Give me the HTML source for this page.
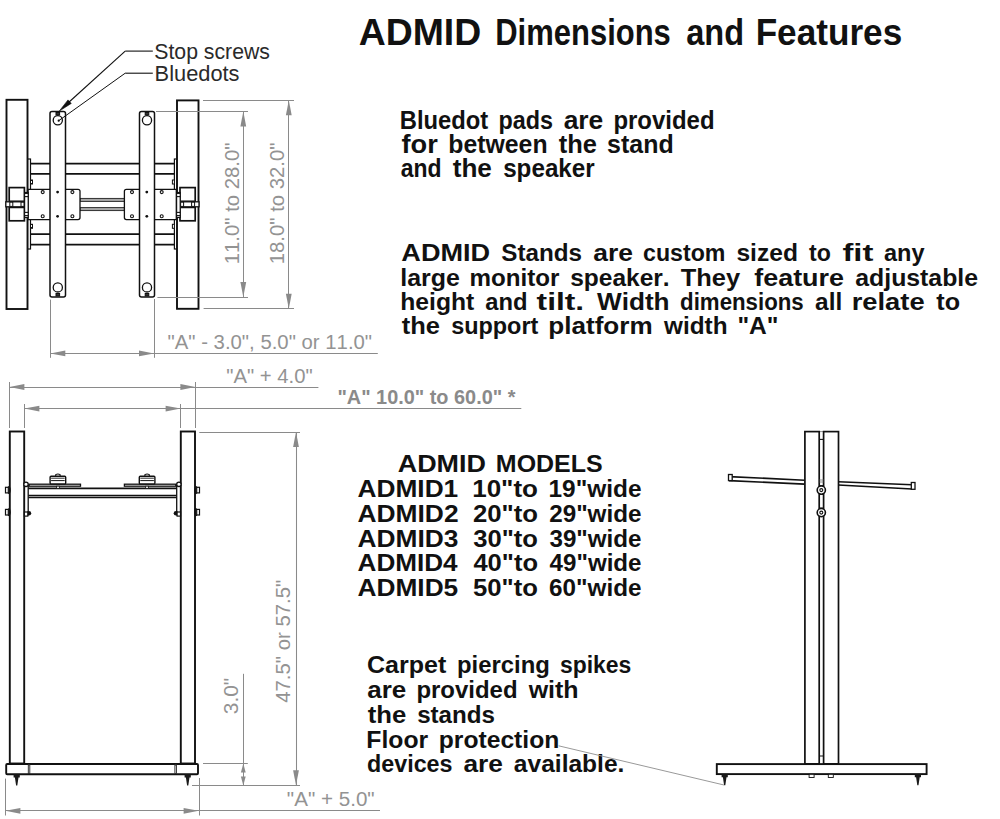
<!DOCTYPE html>
<html><head><meta charset="utf-8"><style>
html,body{margin:0;padding:0;background:#fff;width:1000px;height:819px;overflow:hidden}
svg{display:block}
text{font-family:"Liberation Sans",sans-serif;font-kerning:none;white-space:pre}
</style></head><body>
<svg width="1000" height="819" viewBox="0 0 1000 819">
<rect width="1000" height="819" fill="#fff"/>
<text x="358.67" y="45" font-size="37.5" font-weight="bold" fill="#111" textLength="122.5" lengthAdjust="spacingAndGlyphs">ADMID</text>
<text x="495.23" y="45" font-size="37.5" font-weight="bold" fill="#111" textLength="175.64" lengthAdjust="spacingAndGlyphs">Dimensions</text>
<text x="686.25" y="45" font-size="37.5" font-weight="bold" fill="#111" textLength="57.8" lengthAdjust="spacingAndGlyphs">and</text>
<text x="755.65" y="45" font-size="37.5" font-weight="bold" fill="#111" textLength="146.59" lengthAdjust="spacingAndGlyphs">Features</text>
<text x="399.81" y="129" font-size="26.5" font-weight="bold" fill="#111" textLength="88.48" lengthAdjust="spacingAndGlyphs">Bluedot</text>
<text x="498.46" y="129" font-size="26.5" font-weight="bold" fill="#111" textLength="54.5" lengthAdjust="spacingAndGlyphs">pads</text>
<text x="563.63" y="129" font-size="26.5" font-weight="bold" fill="#111" textLength="39.68" lengthAdjust="spacingAndGlyphs">are</text>
<text x="613.42" y="129" font-size="26.5" font-weight="bold" fill="#111" textLength="101.16" lengthAdjust="spacingAndGlyphs">provided</text>
<text x="401.53" y="153" font-size="26.5" font-weight="bold" fill="#111" textLength="36.28" lengthAdjust="spacingAndGlyphs">for</text>
<text x="448.37" y="153" font-size="26.5" font-weight="bold" fill="#111" textLength="99.17" lengthAdjust="spacingAndGlyphs">between</text>
<text x="558.69" y="153" font-size="26.5" font-weight="bold" fill="#111" textLength="38.18" lengthAdjust="spacingAndGlyphs">the</text>
<text x="607.12" y="153" font-size="26.5" font-weight="bold" fill="#111" textLength="66.52" lengthAdjust="spacingAndGlyphs">stand</text>
<text x="400.73" y="176.8" font-size="26.5" font-weight="bold" fill="#111" textLength="40.78" lengthAdjust="spacingAndGlyphs">and</text>
<text x="452.68" y="176.8" font-size="26.5" font-weight="bold" fill="#111" textLength="39.21" lengthAdjust="spacingAndGlyphs">the</text>
<text x="503.15" y="176.8" font-size="26.5" font-weight="bold" fill="#111" textLength="91.62" lengthAdjust="spacingAndGlyphs">speaker</text>
<text x="401.33" y="260.6" font-size="24.6" font-weight="bold" fill="#111" textLength="88.81" lengthAdjust="spacingAndGlyphs">ADMID</text>
<text x="501.3" y="260.6" font-size="24.6" font-weight="bold" fill="#111" textLength="80.69" lengthAdjust="spacingAndGlyphs">Stands</text>
<text x="593.23" y="260.6" font-size="24.6" font-weight="bold" fill="#111" textLength="39.68" lengthAdjust="spacingAndGlyphs">are</text>
<text x="643.1" y="260.6" font-size="24.6" font-weight="bold" fill="#111" textLength="82.34" lengthAdjust="spacingAndGlyphs">custom</text>
<text x="736.44" y="260.6" font-size="24.6" font-weight="bold" fill="#111" textLength="61.48" lengthAdjust="spacingAndGlyphs">sized</text>
<text x="809.02" y="260.6" font-size="24.6" font-weight="bold" fill="#111" textLength="21.89" lengthAdjust="spacingAndGlyphs">to</text>
<text x="842.44" y="260.6" font-size="24.6" font-weight="bold" fill="#111" textLength="30.96" lengthAdjust="spacingAndGlyphs">fit</text>
<text x="884.01" y="260.6" font-size="24.6" font-weight="bold" fill="#111" textLength="40.52" lengthAdjust="spacingAndGlyphs">any</text>
<text x="400.26" y="285.6" font-size="24.6" font-weight="bold" fill="#111" textLength="59.59" lengthAdjust="spacingAndGlyphs">large</text>
<text x="469.41" y="285.6" font-size="24.6" font-weight="bold" fill="#111" textLength="89.96" lengthAdjust="spacingAndGlyphs">monitor</text>
<text x="570.14" y="285.6" font-size="24.6" font-weight="bold" fill="#111" textLength="99.55" lengthAdjust="spacingAndGlyphs">speaker.</text>
<text x="680.71" y="285.6" font-size="24.6" font-weight="bold" fill="#111" textLength="59.42" lengthAdjust="spacingAndGlyphs">They</text>
<text x="754.24" y="285.6" font-size="24.6" font-weight="bold" fill="#111" textLength="89.78" lengthAdjust="spacingAndGlyphs">feature</text>
<text x="855.27" y="285.6" font-size="24.6" font-weight="bold" fill="#111" textLength="122.78" lengthAdjust="spacingAndGlyphs">adjustable</text>
<text x="400.28" y="309.8" font-size="24.6" font-weight="bold" fill="#111" textLength="74.02" lengthAdjust="spacingAndGlyphs">height</text>
<text x="485.3" y="309.8" font-size="24.6" font-weight="bold" fill="#111" textLength="42.26" lengthAdjust="spacingAndGlyphs">and</text>
<text x="536.61" y="309.8" font-size="24.6" font-weight="bold" fill="#111" textLength="47.57" lengthAdjust="spacingAndGlyphs">tilt.</text>
<text x="596.97" y="309.8" font-size="24.6" font-weight="bold" fill="#111" textLength="72.65" lengthAdjust="spacingAndGlyphs">Width</text>
<text x="680.09" y="309.8" font-size="24.6" font-weight="bold" fill="#111" textLength="123.63" lengthAdjust="spacingAndGlyphs">dimensions</text>
<text x="815.08" y="309.8" font-size="24.6" font-weight="bold" fill="#111" textLength="27.14" lengthAdjust="spacingAndGlyphs">all</text>
<text x="851.7" y="309.8" font-size="24.6" font-weight="bold" fill="#111" textLength="72.94" lengthAdjust="spacingAndGlyphs">relate</text>
<text x="936.39" y="309.8" font-size="24.6" font-weight="bold" fill="#111" textLength="23.79" lengthAdjust="spacingAndGlyphs">to</text>
<text x="401.69" y="333.6" font-size="24.6" font-weight="bold" fill="#111" textLength="38.18" lengthAdjust="spacingAndGlyphs">the</text>
<text x="451.18" y="333.6" font-size="24.6" font-weight="bold" fill="#111" textLength="87.11" lengthAdjust="spacingAndGlyphs">support</text>
<text x="548.28" y="333.6" font-size="24.6" font-weight="bold" fill="#111" textLength="104.34" lengthAdjust="spacingAndGlyphs">platform</text>
<text x="664.07" y="333.6" font-size="24.6" font-weight="bold" fill="#111" textLength="63.44" lengthAdjust="spacingAndGlyphs">width</text>
<text x="737.38" y="333.6" font-size="24.6" font-weight="bold" fill="#111" textLength="41.04" lengthAdjust="spacingAndGlyphs">&quot;A&quot;</text>
<text x="397.73" y="472.3" font-size="23.6" font-weight="bold" fill="#111" textLength="88.2" lengthAdjust="spacingAndGlyphs">ADMID</text>
<text x="495.83" y="472.3" font-size="23.6" font-weight="bold" fill="#111" textLength="106.85" lengthAdjust="spacingAndGlyphs">MODELS</text>
<text x="357.55" y="497.4" font-size="23.6" font-weight="bold" fill="#111" textLength="100.69" lengthAdjust="spacingAndGlyphs">ADMID1</text>
<text x="472.16" y="497.4" font-size="23.6" font-weight="bold" fill="#111" textLength="65.86" lengthAdjust="spacingAndGlyphs">10&quot;to</text>
<text x="548.46" y="497.4" font-size="23.6" font-weight="bold" fill="#111" textLength="93.07" lengthAdjust="spacingAndGlyphs">19&quot;wide</text>
<text x="357.54" y="521.8" font-size="23.6" font-weight="bold" fill="#111" textLength="101.01" lengthAdjust="spacingAndGlyphs">ADMID2</text>
<text x="472.91" y="521.8" font-size="23.6" font-weight="bold" fill="#111" textLength="65.1" lengthAdjust="spacingAndGlyphs">20&quot;to</text>
<text x="549.16" y="521.8" font-size="23.6" font-weight="bold" fill="#111" textLength="92.37" lengthAdjust="spacingAndGlyphs">29&quot;wide</text>
<text x="357.54" y="546.6" font-size="23.6" font-weight="bold" fill="#111" textLength="100.91" lengthAdjust="spacingAndGlyphs">ADMID3</text>
<text x="473.21" y="546.6" font-size="23.6" font-weight="bold" fill="#111" textLength="64.79" lengthAdjust="spacingAndGlyphs">30&quot;to</text>
<text x="549.45" y="546.6" font-size="23.6" font-weight="bold" fill="#111" textLength="92.08" lengthAdjust="spacingAndGlyphs">39&quot;wide</text>
<text x="357.55" y="571.2" font-size="23.6" font-weight="bold" fill="#111" textLength="100.09" lengthAdjust="spacingAndGlyphs">ADMID4</text>
<text x="473.41" y="571.2" font-size="23.6" font-weight="bold" fill="#111" textLength="64.58" lengthAdjust="spacingAndGlyphs">40&quot;to</text>
<text x="549.63" y="571.2" font-size="23.6" font-weight="bold" fill="#111" textLength="91.89" lengthAdjust="spacingAndGlyphs">49&quot;wide</text>
<text x="357.55" y="596.2" font-size="23.6" font-weight="bold" fill="#111" textLength="100.69" lengthAdjust="spacingAndGlyphs">ADMID5</text>
<text x="473.01" y="596.2" font-size="23.6" font-weight="bold" fill="#111" textLength="64.99" lengthAdjust="spacingAndGlyphs">50&quot;to</text>
<text x="549.11" y="596.2" font-size="23.6" font-weight="bold" fill="#111" textLength="92.42" lengthAdjust="spacingAndGlyphs">60&quot;wide</text>
<text x="366.97" y="673.3" font-size="24.4" font-weight="bold" fill="#111" textLength="79.33" lengthAdjust="spacingAndGlyphs">Carpet</text>
<text x="457.03" y="673.3" font-size="24.4" font-weight="bold" fill="#111" textLength="92.77" lengthAdjust="spacingAndGlyphs">piercing</text>
<text x="559.99" y="673.3" font-size="24.4" font-weight="bold" fill="#111" textLength="71.35" lengthAdjust="spacingAndGlyphs">spikes</text>
<text x="367.24" y="698.3" font-size="24.4" font-weight="bold" fill="#111" textLength="39.05" lengthAdjust="spacingAndGlyphs">are</text>
<text x="416.42" y="698.3" font-size="24.4" font-weight="bold" fill="#111" textLength="101.16" lengthAdjust="spacingAndGlyphs">provided</text>
<text x="528.67" y="698.3" font-size="24.4" font-weight="bold" fill="#111" textLength="49.98" lengthAdjust="spacingAndGlyphs">with</text>
<text x="367.69" y="723.1" font-size="24.4" font-weight="bold" fill="#111" textLength="38.59" lengthAdjust="spacingAndGlyphs">the</text>
<text x="417.15" y="723.1" font-size="24.4" font-weight="bold" fill="#111" textLength="77.84" lengthAdjust="spacingAndGlyphs">stands</text>
<text x="366.35" y="747.6" font-size="24.4" font-weight="bold" fill="#111" textLength="61.83" lengthAdjust="spacingAndGlyphs">Floor</text>
<text x="438.77" y="747.6" font-size="24.4" font-weight="bold" fill="#111" textLength="120.55" lengthAdjust="spacingAndGlyphs">protection</text>
<text x="367.04" y="772.4" font-size="24.4" font-weight="bold" fill="#111" textLength="85.51" lengthAdjust="spacingAndGlyphs">devices</text>
<text x="463.43" y="772.4" font-size="24.4" font-weight="bold" fill="#111" textLength="39.47" lengthAdjust="spacingAndGlyphs">are</text>
<text x="513.88" y="772.4" font-size="24.4" font-weight="bold" fill="#111" textLength="110.51" lengthAdjust="spacingAndGlyphs">available.</text>
<text x="154.24" y="58.8" font-size="21.5" font-weight="normal" fill="#2a2a2a" textLength="115.73" lengthAdjust="spacingAndGlyphs">Stop screws</text>
<text x="154.61" y="80.9" font-size="21.5" font-weight="normal" fill="#2a2a2a" textLength="84.88" lengthAdjust="spacingAndGlyphs">Bluedots</text>
<text x="167.54" y="349" font-size="20" font-weight="normal" fill="#939393" textLength="204.53" lengthAdjust="spacingAndGlyphs">&quot;A&quot; - 3.0&quot;, 5.0&quot; or 11.0&quot;</text>
<text x="226.24" y="382.7" font-size="20" font-weight="normal" fill="#939393" textLength="86.42" lengthAdjust="spacingAndGlyphs">&quot;A&quot; + 4.0&quot;</text>
<text x="337.39" y="404" font-size="21" font-weight="bold" fill="#8a8a8a" textLength="178.03" lengthAdjust="spacingAndGlyphs">&quot;A&quot; 10.0&quot; to 60.0&quot; *</text>
<text x="286.82" y="806.2" font-size="20" font-weight="normal" fill="#939393" textLength="87.85" lengthAdjust="spacingAndGlyphs">&quot;A&quot; + 5.0&quot;</text>
<text x="-264.35" y="238.9" font-size="20.5" font-weight="normal" fill="#939393" textLength="121.91" lengthAdjust="spacingAndGlyphs" transform="rotate(-90)">11.0&quot; to 28.0&quot;</text>
<text x="-264.35" y="284.1" font-size="20.5" font-weight="normal" fill="#939393" textLength="121.91" lengthAdjust="spacingAndGlyphs" transform="rotate(-90)">18.0&quot; to 32.0&quot;</text>
<text x="-714.2" y="237.7" font-size="20.5" font-weight="normal" fill="#939393" textLength="36.48" lengthAdjust="spacingAndGlyphs" transform="rotate(-90)">3.0&quot;</text>
<text x="-702.77" y="289.9" font-size="20.5" font-weight="normal" fill="#939393" textLength="123.03" lengthAdjust="spacingAndGlyphs" transform="rotate(-90)">47.5&quot; or 57.5&quot;</text>
<line x1="30.5" y1="163.7" x2="174.4" y2="163.7" stroke="#111" stroke-width="1.8"/>
<line x1="30.5" y1="173.8" x2="174.4" y2="173.8" stroke="#111" stroke-width="1.8"/>
<line x1="30.5" y1="234.2" x2="174.4" y2="234.2" stroke="#111" stroke-width="1.8"/>
<line x1="30.5" y1="244.6" x2="174.4" y2="244.6" stroke="#111" stroke-width="1.8"/>
<rect x="27.5" y="159" width="3.0" height="90" rx="0" stroke="#111" stroke-width="1.2" fill="#fff"/>
<rect x="174.4" y="159" width="3.0" height="90" rx="0" stroke="#111" stroke-width="1.2" fill="#fff"/>
<rect x="30.5" y="180" width="2.0" height="4" rx="0" stroke="#111" stroke-width="1" fill="#fff"/>
<rect x="172.4" y="180" width="2.0" height="4" rx="0" stroke="#111" stroke-width="1" fill="#fff"/>
<rect x="30.5" y="224.3" width="2.0" height="4.0" rx="0" stroke="#111" stroke-width="1" fill="#fff"/>
<rect x="172.4" y="224.3" width="2.0" height="4.0" rx="0" stroke="#111" stroke-width="1" fill="#fff"/>
<rect x="80" y="198.4" width="44.4" height="3.0" rx="0" stroke="#222" stroke-width="0.9" fill="#a8a8a8"/>
<rect x="80" y="207.6" width="44.4" height="3.0" rx="0" stroke="#222" stroke-width="0.9" fill="#a8a8a8"/>
<path d="M28,189.3 H78 Q80,189.3 80,191.3 V217.6 Q80,219.6 78,219.6 H28 Z" stroke="#111" stroke-width="1.3" fill="#fff"/>
<path d="M176.3,189.3 H126.4 Q124.4,189.3 124.4,191.3 V217.6 Q124.4,219.6 126.4,219.6 H176.3 Z" stroke="#111" stroke-width="1.3" fill="#fff"/>
<circle cx="42.7" cy="192.1" r="1.5" stroke="#111" stroke-width="1.1" fill="#fff"/>
<circle cx="72.4" cy="192.1" r="1.5" stroke="#111" stroke-width="1.1" fill="#fff"/>
<circle cx="42.7" cy="216.3" r="1.5" stroke="#111" stroke-width="1.1" fill="#fff"/>
<circle cx="72.4" cy="216.3" r="1.5" stroke="#111" stroke-width="1.1" fill="#fff"/>
<circle cx="132" cy="192.1" r="1.5" stroke="#111" stroke-width="1.1" fill="#fff"/>
<circle cx="161.7" cy="192.1" r="1.5" stroke="#111" stroke-width="1.1" fill="#fff"/>
<circle cx="132" cy="216.3" r="1.5" stroke="#111" stroke-width="1.1" fill="#fff"/>
<circle cx="161.7" cy="216.3" r="1.5" stroke="#111" stroke-width="1.1" fill="#fff"/>
<rect x="50" y="111.5" width="15.5" height="185.5" rx="2" stroke="#111" stroke-width="1.5" fill="#fff"/>
<rect x="139.5" y="111.5" width="15.0" height="185.5" rx="2" stroke="#111" stroke-width="1.5" fill="#fff"/>
<circle cx="57.6" cy="192.1" r="1.4" stroke="#111" stroke-width="0" fill="#111"/>
<circle cx="57.6" cy="216.3" r="1.4" stroke="#111" stroke-width="0" fill="#111"/>
<circle cx="146.8" cy="192.1" r="1.4" stroke="#111" stroke-width="0" fill="#111"/>
<circle cx="146.8" cy="216.3" r="1.4" stroke="#111" stroke-width="0" fill="#111"/>
<circle cx="57.8" cy="120.3" r="4.6" stroke="#111" stroke-width="1.3" fill="#fff"/>
<circle cx="57.8" cy="287.4" r="4.6" stroke="#111" stroke-width="1.3" fill="#fff"/>
<rect x="56.0" y="112.5" width="3.6" height="2.5" rx="0" stroke="#111" stroke-width="1" fill="#333"/>
<rect x="56.0" y="293.5" width="3.6" height="2.5" rx="0" stroke="#111" stroke-width="1" fill="#333"/>
<circle cx="147" cy="120.3" r="4.6" stroke="#111" stroke-width="1.3" fill="#fff"/>
<circle cx="147" cy="287.4" r="4.6" stroke="#111" stroke-width="1.3" fill="#fff"/>
<rect x="145.2" y="112.5" width="3.6" height="2.5" rx="0" stroke="#111" stroke-width="1" fill="#333"/>
<rect x="145.2" y="293.5" width="3.6" height="2.5" rx="0" stroke="#111" stroke-width="1" fill="#333"/>
<rect x="6.5" y="99.8" width="21.0" height="209.2" rx="0" stroke="#111" stroke-width="1.9" fill="#fff"/>
<rect x="177" y="100.4" width="21.5" height="208.4" rx="0" stroke="#111" stroke-width="1.9" fill="#fff"/>
<rect x="9.2" y="187.6" width="15.2" height="13.7" rx="0" stroke="#111" stroke-width="1.7" fill="#fff"/>
<rect x="9.2" y="207.4" width="15.2" height="13.4" rx="0" stroke="#111" stroke-width="1.7" fill="#fff"/>
<rect x="5.8" y="201.8" width="18.6" height="5.0" rx="0" stroke="#111" stroke-width="1.3" fill="#fff"/>
<rect x="9.8" y="202.2" width="3.0" height="4.2" rx="0" stroke="#111" stroke-width="1.0" fill="#fff"/>
<rect x="21" y="202.2" width="3" height="4.2" rx="0" stroke="#111" stroke-width="1.0" fill="#fff"/>
<rect x="180" y="187.6" width="15.2" height="13.7" rx="0" stroke="#111" stroke-width="1.7" fill="#fff"/>
<rect x="180" y="207.4" width="15.2" height="13.4" rx="0" stroke="#111" stroke-width="1.7" fill="#fff"/>
<rect x="180" y="201.8" width="19" height="5.0" rx="0" stroke="#111" stroke-width="1.3" fill="#fff"/>
<rect x="180.6" y="202.2" width="3.0" height="4.2" rx="0" stroke="#111" stroke-width="1.0" fill="#fff"/>
<rect x="191.6" y="202.2" width="3.0" height="4.2" rx="0" stroke="#111" stroke-width="1.0" fill="#fff"/>
<rect x="24.6" y="192.5" width="3.6" height="25.0" rx="0" stroke="#111" stroke-width="1.2" fill="#fff"/>
<rect x="24.6" y="193.4" width="3.6" height="3.2" rx="0" stroke="#111" stroke-width="1.1" fill="#fff"/>
<rect x="24.6" y="212.4" width="3.6" height="3.2" rx="0" stroke="#111" stroke-width="1.1" fill="#fff"/>
<rect x="176.6" y="192.5" width="3.6" height="25.0" rx="0" stroke="#111" stroke-width="1.2" fill="#fff"/>
<rect x="176.6" y="193.4" width="3.6" height="3.2" rx="0" stroke="#111" stroke-width="1.1" fill="#fff"/>
<rect x="176.6" y="212.4" width="3.6" height="3.2" rx="0" stroke="#111" stroke-width="1.1" fill="#fff"/>
<line x1="125.2" y1="51.1" x2="152.8" y2="51.1" stroke="#111" stroke-width="1.1"/>
<line x1="125.2" y1="51.1" x2="68" y2="103" stroke="#111" stroke-width="1.1"/>
<polygon points="59.3,111.1 71.3,103.4 68.0,99.9" fill="#111" stroke="#111" stroke-width="0.6" stroke-linejoin="round"/>
<line x1="125.2" y1="73.2" x2="152.8" y2="73.2" stroke="#111" stroke-width="1.1"/>
<line x1="125.2" y1="73.2" x2="58.7" y2="120.7" stroke="#111" stroke-width="1.0"/>
<circle cx="58.7" cy="120.7" r="1.1" stroke="#111" stroke-width="0" fill="#111"/>
<line x1="203" y1="100.5" x2="294" y2="100.5" stroke="#8a8a8a" stroke-width="1.05"/>
<line x1="156" y1="111.5" x2="248" y2="111.5" stroke="#8a8a8a" stroke-width="1.05"/>
<line x1="157.4" y1="297.5" x2="248" y2="297.5" stroke="#8a8a8a" stroke-width="1.05"/>
<line x1="203.6" y1="308.5" x2="294" y2="308.5" stroke="#8a8a8a" stroke-width="1.05"/>
<line x1="243.5" y1="111.4" x2="243.5" y2="297" stroke="#8a8a8a" stroke-width="1.05"/>
<polygon points="243.3,111.4 240.4,126.4 246.20000000000002,126.4" fill="#8a8a8a"/>
<polygon points="243.3,297 240.4,282 246.20000000000002,282" fill="#8a8a8a"/>
<line x1="288.5" y1="100.3" x2="288.5" y2="308.8" stroke="#8a8a8a" stroke-width="1.05"/>
<polygon points="288.8,100.3 285.90000000000003,115.3 291.7,115.3" fill="#8a8a8a"/>
<polygon points="288.8,308.8 285.90000000000003,293.8 291.7,293.8" fill="#8a8a8a"/>
<line x1="50.5" y1="299.6" x2="50.5" y2="357.8" stroke="#8a8a8a" stroke-width="1.05"/>
<line x1="154.5" y1="299" x2="154.5" y2="357.8" stroke="#8a8a8a" stroke-width="1.05"/>
<line x1="50.3" y1="353.5" x2="377.8" y2="353.5" stroke="#8a8a8a" stroke-width="1.05"/>
<polygon points="50.3,353.4 65.3,350.5 65.3,356.29999999999995" fill="#8a8a8a"/>
<polygon points="154,353.4 139,350.5 139,356.29999999999995" fill="#8a8a8a"/>
<line x1="9.5" y1="382" x2="9.5" y2="428" stroke="#8a8a8a" stroke-width="1.05"/>
<line x1="195.5" y1="382" x2="195.5" y2="428" stroke="#8a8a8a" stroke-width="1.05"/>
<line x1="24.5" y1="404" x2="24.5" y2="428" stroke="#8a8a8a" stroke-width="1.05"/>
<line x1="180.5" y1="404" x2="180.5" y2="428" stroke="#8a8a8a" stroke-width="1.05"/>
<line x1="9.4" y1="387.5" x2="318.4" y2="387.5" stroke="#8a8a8a" stroke-width="1.05"/>
<polygon points="9.4,387 24.4,384.1 24.4,389.9" fill="#8a8a8a"/>
<polygon points="195.4,387 180.4,384.1 180.4,389.9" fill="#8a8a8a"/>
<line x1="24.4" y1="408.5" x2="521.3" y2="408.5" stroke="#8a8a8a" stroke-width="1.05"/>
<polygon points="24.4,408.6 39.4,405.70000000000005 39.4,411.5" fill="#8a8a8a"/>
<polygon points="180.6,408.6 165.6,405.70000000000005 165.6,411.5" fill="#8a8a8a"/>
<rect x="9.8" y="431.5" width="14.4" height="332.0" rx="0" stroke="#111" stroke-width="1.9" fill="#fff"/>
<rect x="180.8" y="431.5" width="14.2" height="332.0" rx="0" stroke="#111" stroke-width="1.9" fill="#fff"/>
<line x1="28.3" y1="488.3" x2="176.6" y2="488.3" stroke="#111" stroke-width="1.7"/>
<line x1="28.3" y1="495.5" x2="176.6" y2="495.5" stroke="#111" stroke-width="1.5"/>
<line x1="28.3" y1="497.4" x2="176.6" y2="497.4" stroke="#111" stroke-width="1.5"/>
<rect x="29.1" y="484.2" width="51.4" height="2.0" rx="0" stroke="#111" stroke-width="1.3" fill="#fff"/>
<rect x="124.4" y="484.2" width="51.4" height="2.0" rx="0" stroke="#111" stroke-width="1.3" fill="#fff"/>
<path d="M55.699999999999996,476.4 V474.6 Q57.9,473.3 60.1,474.6 V476.4" stroke="#111" stroke-width="1.1" fill="#fff"/>
<rect x="50.1" y="476.3" width="15.6" height="7.7" rx="1" stroke="#111" stroke-width="1.4" fill="#fff"/>
<line x1="51.1" y1="478.2" x2="64.7" y2="478.2" stroke="#111" stroke-width="0.9"/>
<line x1="51.1" y1="480.6" x2="64.7" y2="480.6" stroke="#111" stroke-width="1.0"/>
<rect x="56.4" y="486.2" width="3.0" height="2.1" rx="0" stroke="#111" stroke-width="0.8" fill="#fff"/>
<path d="M144.90000000000003,476.4 V474.6 Q147.10000000000002,473.3 149.3,474.6 V476.4" stroke="#111" stroke-width="1.1" fill="#fff"/>
<rect x="139.3" y="476.3" width="15.6" height="7.7" rx="1" stroke="#111" stroke-width="1.4" fill="#fff"/>
<line x1="140.3" y1="478.2" x2="153.9" y2="478.2" stroke="#111" stroke-width="0.9"/>
<line x1="140.3" y1="480.6" x2="153.9" y2="480.6" stroke="#111" stroke-width="1.0"/>
<rect x="145.60000000000002" y="486.2" width="3.0" height="2.1" rx="0" stroke="#111" stroke-width="0.8" fill="#fff"/>
<line x1="28.2" y1="484" x2="28.2" y2="515.5" stroke="#111" stroke-width="1.3"/>
<line x1="176.7" y1="484" x2="176.7" y2="515.5" stroke="#111" stroke-width="1.3"/>
<circle cx="26" cy="484.3" r="2.2" stroke="#111" stroke-width="1.3" fill="#fff"/>
<circle cx="178.9" cy="484.3" r="2.2" stroke="#111" stroke-width="1.3" fill="#fff"/>
<circle cx="28.900000000000002" cy="513.2" r="2.3" stroke="#111" stroke-width="0" fill="#111"/>
<rect x="24.400000000000002" y="512" width="3.4" height="4.1" rx="0" stroke="#111" stroke-width="1.2" fill="#fff"/>
<circle cx="176.0" cy="513.2" r="2.3" stroke="#111" stroke-width="0" fill="#111"/>
<rect x="177.10000000000002" y="512" width="3.4" height="4.1" rx="0" stroke="#111" stroke-width="1.2" fill="#fff"/>
<path d="M8.6,486.3 Q11,490.1 8.6,493.90000000000003" stroke="#111" stroke-width="2" fill="none"/>
<rect x="5.5" y="487.3" width="2.8" height="5.6" rx="0" stroke="#111" stroke-width="1.2" fill="#fff"/>
<path d="M196.4,486.3 Q194,490.1 196.4,493.90000000000003" stroke="#111" stroke-width="2" fill="none"/>
<rect x="196.7" y="487.3" width="2.8" height="5.6" rx="0" stroke="#111" stroke-width="1.2" fill="#fff"/>
<path d="M8.6,508.40000000000003 Q11,512.2 8.6,516.0" stroke="#111" stroke-width="2" fill="none"/>
<rect x="5.5" y="509.40000000000003" width="2.8" height="5.6" rx="0" stroke="#111" stroke-width="1.2" fill="#fff"/>
<path d="M196.4,508.40000000000003 Q194,512.2 196.4,516.0" stroke="#111" stroke-width="2" fill="none"/>
<rect x="196.7" y="509.40000000000003" width="2.8" height="5.6" rx="0" stroke="#111" stroke-width="1.2" fill="#fff"/>
<rect x="6.2" y="764" width="191.8" height="10.3" rx="1" stroke="#111" stroke-width="1.9" fill="#fff"/>
<rect x="28.3" y="764.8" width="1.5" height="8.7" rx="0" stroke="#222" stroke-width="0.9" fill="#fff"/>
<rect x="174.9" y="764.8" width="1.5" height="8.7" rx="0" stroke="#222" stroke-width="0.9" fill="#fff"/>
<path d="M13.6,774.3 H19.8 V777.4 H18.5 L17.3,785.6 H16.099999999999998 L14.899999999999999,777.4 H13.6 Z" fill="#1a1a1a"/>
<path d="M184.6,774.3 H190.79999999999998 V777.4 H189.5 L188.29999999999998,785.6 H187.1 L185.89999999999998,777.4 H184.6 Z" fill="#1a1a1a"/>
<line x1="199.3" y1="432.5" x2="300" y2="432.5" stroke="#8a8a8a" stroke-width="1.05"/>
<line x1="296.5" y1="432" x2="296.5" y2="785.2" stroke="#8a8a8a" stroke-width="1.05"/>
<polygon points="296,432 293.1,447 298.9,447" fill="#8a8a8a"/>
<polygon points="296,785.2 293.1,770.2 298.9,770.2" fill="#8a8a8a"/>
<line x1="192" y1="785.5" x2="300" y2="785.5" stroke="#8a8a8a" stroke-width="1.05"/>
<line x1="203" y1="763.5" x2="247.8" y2="763.5" stroke="#8a8a8a" stroke-width="1.05"/>
<line x1="243.5" y1="673.8" x2="243.5" y2="785.4" stroke="#8a8a8a" stroke-width="1.05"/>
<polygon points="243.3,763.6 240.9,772.6 245.70000000000002,772.6" fill="#8a8a8a"/>
<polygon points="243.3,785.4 240.9,776.4 245.70000000000002,776.4" fill="#8a8a8a"/>
<line x1="5.5" y1="778.6" x2="5.5" y2="815.5" stroke="#8a8a8a" stroke-width="1.05"/>
<line x1="199.5" y1="778" x2="199.5" y2="815.5" stroke="#8a8a8a" stroke-width="1.05"/>
<line x1="5.4" y1="810.5" x2="380" y2="810.5" stroke="#8a8a8a" stroke-width="1.05"/>
<polygon points="5.4,810.8 20.4,807.9 20.4,813.6999999999999" fill="#8a8a8a"/>
<polygon points="198.6,810.8 183.6,807.9 183.6,813.6999999999999" fill="#8a8a8a"/>
<path d="M729,476.6 L804.6,480.2 M729,480.6 L804.6,484.1" stroke="#111" stroke-width="1.6"/>
<path d="M838.3,481.7 L912,484.8 M838.3,485.0 L912,489.0" stroke="#111" stroke-width="1.6"/>
<rect x="728.5" y="474.5" width="3.7" height="6.1" rx="0" stroke="#111" stroke-width="1.3" fill="#fff"/>
<rect x="911.3" y="482.5" width="3.7" height="6.8" rx="0" stroke="#111" stroke-width="1.3" fill="#fff"/>
<line x1="819.2" y1="431.6" x2="823.6" y2="431.6" stroke="#888" stroke-width="0.9"/>
<rect x="804.9" y="431.6" width="14.3" height="332.3" rx="0" stroke="#111" stroke-width="1.7" fill="#fff"/>
<rect x="823.6" y="431.6" width="14.9" height="332.3" rx="0" stroke="#111" stroke-width="1.7" fill="#fff"/>
<line x1="819.2" y1="439.4" x2="823.6" y2="439.4" stroke="#111" stroke-width="1.1"/>
<line x1="819.4" y1="480" x2="823.6" y2="480" stroke="#777" stroke-width="0.8"/>
<line x1="819.4" y1="482" x2="823.6" y2="482" stroke="#777" stroke-width="0.8"/>
<line x1="819.4" y1="485.6" x2="823.6" y2="485.6" stroke="#111" stroke-width="1.0"/>
<line x1="819.4" y1="494.5" x2="823.6" y2="494.5" stroke="#111" stroke-width="1.0"/>
<line x1="819.4" y1="508" x2="823.6" y2="508" stroke="#111" stroke-width="1.0"/>
<circle cx="821.3" cy="490.1" r="4.1" stroke="#111" stroke-width="1.6" fill="#fff"/>
<circle cx="821.3" cy="490.1" r="1.5" stroke="#111" stroke-width="1.1" fill="#fff"/>
<circle cx="821.3" cy="512.6" r="4.1" stroke="#111" stroke-width="1.6" fill="#fff"/>
<circle cx="821.3" cy="512.6" r="1.5" stroke="#111" stroke-width="1.1" fill="#fff"/>
<line x1="819.2" y1="756" x2="823.6" y2="756" stroke="#111" stroke-width="1.0"/>
<rect x="716.8" y="764.1" width="209.8" height="10.0" rx="0" stroke="#111" stroke-width="1.9" fill="#fff"/>
<path d="M721.6,774.3 H727.8000000000001 V777.2 H726.5 L725.3000000000001,785.2 H724.1 L722.9000000000001,777.2 H721.6 Z" fill="#1a1a1a"/>
<path d="M914.8,774.3 H921.0 V777.2 H919.6999999999999 L918.5,785.2 H917.3 L916.1,777.2 H914.8 Z" fill="#1a1a1a"/>
<rect x="809.1" y="774.3" width="5.0" height="3.2" rx="0" stroke="#111" stroke-width="0.9" fill="#fff"/>
<rect x="828.3" y="774.3" width="5.0" height="3.2" rx="0" stroke="#111" stroke-width="0.9" fill="#fff"/>
<line x1="558.6" y1="745.8" x2="724" y2="785" stroke="#999" stroke-width="1.0"/>
</svg>
</body></html>
